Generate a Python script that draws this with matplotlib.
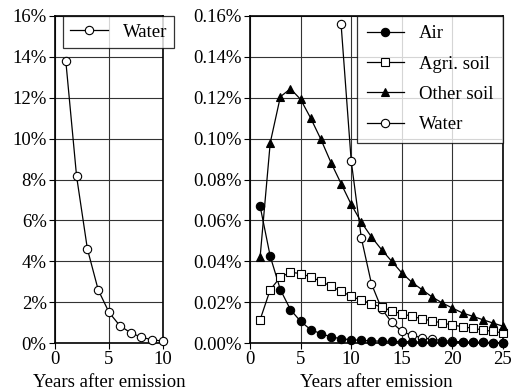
import matplotlib
matplotlib.use("Agg")
import matplotlib.pyplot as plt
from matplotlib.ticker import FuncFormatter, MultipleLocator

plt.rcParams["font.family"] = "serif"
plt.rcParams["font.serif"] = ["Liberation Serif", "DejaVu Serif"]
plt.rcParams["font.size"] = 13.5

# %% data (percent of emission)
years_left = [1, 2, 3, 4, 5, 6, 7, 8, 9, 10]
water_left = [13.8, 8.15, 4.6, 2.6, 1.5, 0.85, 0.5, 0.28, 0.16, 0.09]

years = list(range(1, 26))
air = [0.0669, 0.0424, 0.0261, 0.0163, 0.0106, 0.0065, 0.0046, 0.0030, 0.0021,
       0.0016, 0.0013, 0.0010, 0.0009, 0.0008, 0.0007, 0.0006, 0.0005, 0.0005,
       0.0004, 0.0004, 0.0003, 0.0003, 0.0003, 0.0002, 0.0002]
agri_soil = [0.0114, 0.0261, 0.0322, 0.0346, 0.0340, 0.0323, 0.0302, 0.0278,
             0.0253, 0.0229, 0.0209, 0.0193, 0.0175, 0.0158, 0.0142, 0.0131,
             0.0118, 0.0108, 0.0098, 0.0088, 0.0080, 0.0072, 0.0064, 0.0057,
             0.0049]
other_soil = [0.0421, 0.0980, 0.1205, 0.1244, 0.1192, 0.1100, 0.0997, 0.0883,
              0.0780, 0.0678, 0.0591, 0.0519, 0.0457, 0.0400, 0.0343, 0.0297,
              0.0261, 0.0225, 0.0196, 0.0171, 0.0147, 0.0131, 0.0114, 0.0098,
              0.0082]
years_water = list(range(9, 26))
water = [0.156, 0.0891, 0.0514, 0.0290, 0.0168, 0.0101, 0.0057, 0.0037, 0.0026,
         0.0018, 0.0012, 0.0008, 0.0006, 0.0004, 0.0003, 0.0002, 0.0002]

# %% figure
fig = plt.figure(figsize=(5.18, 3.92), dpi=100)
ax1 = fig.add_axes([55 / 518, 1 - 343 / 392, 108 / 518, 327 / 392])
ax2 = fig.add_axes([250 / 518, 1 - 343 / 392, 253 / 518, 327 / 392])

mk = dict(color="black", lw=0.9, ms=6, mew=0.8, clip_on=False)

ax1.plot(years_left, water_left, marker="o", mfc="white", label="Water",
         zorder=3, **mk)
ax1.set_xlim(0, 10)
ax1.set_ylim(0, 16)
ax1.xaxis.set_major_locator(MultipleLocator(5))
ax1.yaxis.set_major_locator(MultipleLocator(2))
ax1.yaxis.set_major_formatter(FuncFormatter(lambda v, p: f"{v:.0f}%"))
leg1 = ax1.legend(loc="upper left", bbox_to_anchor=(0.07, 1.0), borderaxespad=0,
                  frameon=True, fancybox=False, edgecolor="black",
                  handlelength=2.0, borderpad=0.4, handletextpad=0.8)
leg1.get_frame().set_linewidth(0.9)
leg1.set_zorder(10)

ax2.plot(years, air, marker="o", mfc="black", label="Air", zorder=4, **mk)
ax2.plot(years, agri_soil, marker="s", mfc="white", label="Agri. soil",
         zorder=4, **mk)
ax2.plot(years, other_soil, marker="^", mfc="black", label="Other soil",
         zorder=4, **mk)
ax2.plot(years_water, water, marker="o", mfc="white", label="Water",
         zorder=3, **mk)
ax2.set_xlim(0, 25)
ax2.set_ylim(0, 0.16)
ax2.xaxis.set_major_locator(MultipleLocator(5))
ax2.yaxis.set_major_locator(MultipleLocator(0.02))
ax2.yaxis.set_major_formatter(FuncFormatter(lambda v, p: f"{v:.2f}%"))
leg2 = ax2.legend(loc="upper right", borderaxespad=0, frameon=True,
                  fancybox=False, edgecolor="black", handlelength=2.0,
                  borderpad=0.5, labelspacing=0.7, handletextpad=0.8)
leg2.get_frame().set_linewidth(0.9)
leg2.set_zorder(10)

for ax in (ax1, ax2):
    ax.grid(True, color="#333333", lw=0.8)
    ax.set_axisbelow(True)
    for s in ax.spines.values():
        s.set_linewidth(1.2)
    ax.tick_params(direction="out", length=4, width=0.8, colors="black",
                   pad=2)
    ax.set_xlabel("Years after emission", labelpad=4)

fig.savefig("out.png", dpi=100)
